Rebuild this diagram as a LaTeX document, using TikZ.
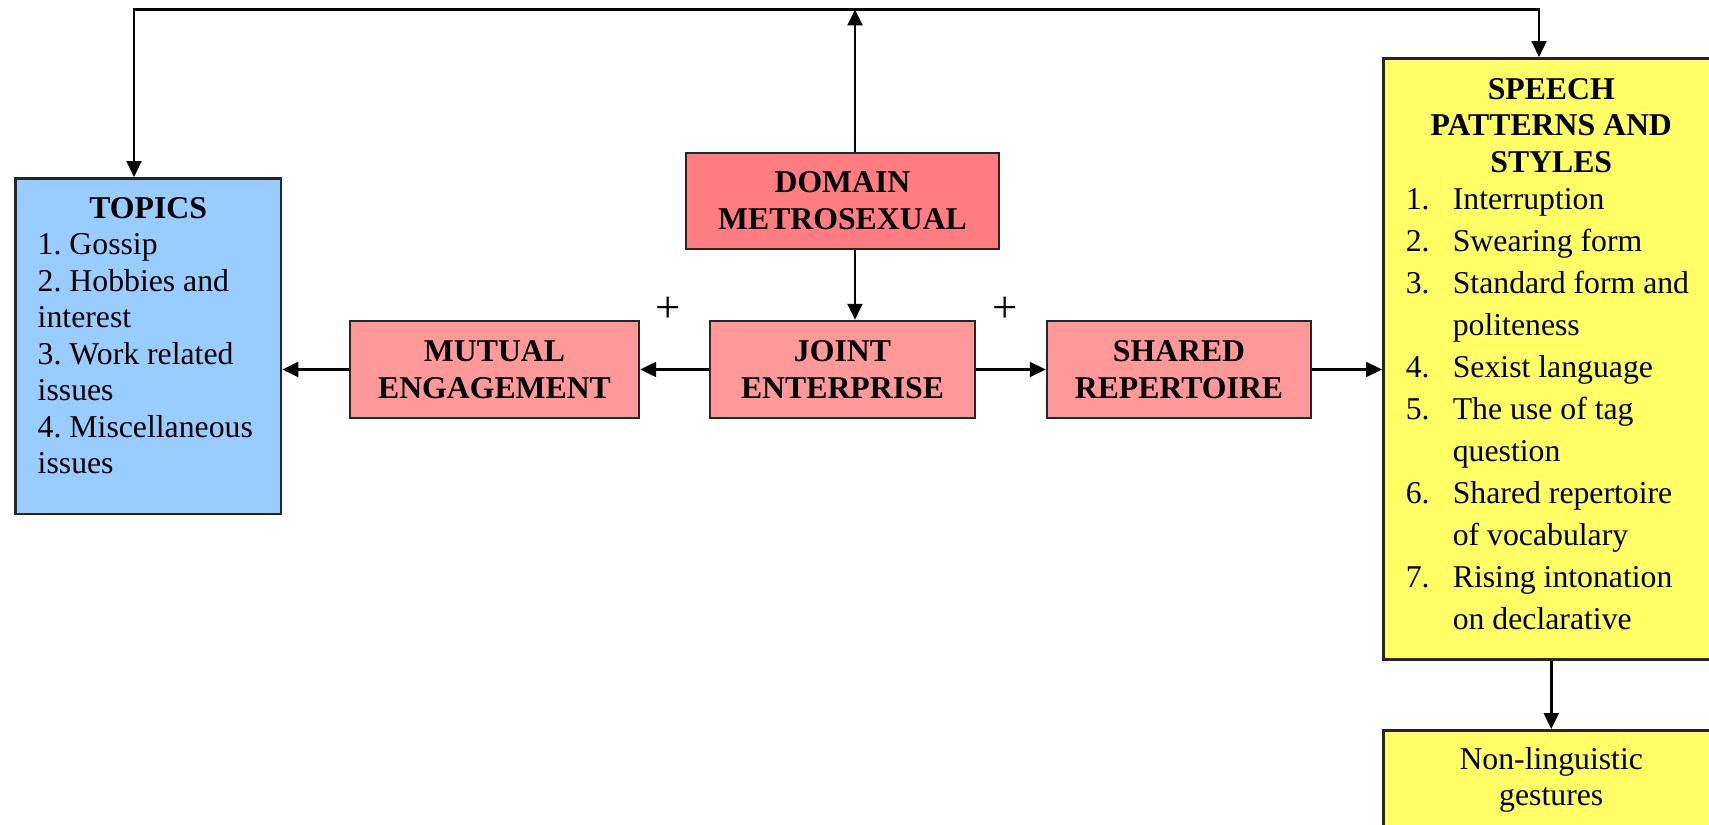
\documentclass[tikz,border=0pt]{standalone}
\usepackage{fontspec}
\setmainfont{Liberation Serif}
\usepackage{xcolor}
\usetikzlibrary{arrows.meta}
\setlength{\parskip}{0pt}
\frenchspacing
\definecolor{topicblue}{HTML}{99CCFF}
\definecolor{domainred}{HTML}{FF7C80}
\definecolor{cmpink}{HTML}{FF9999}
\definecolor{speechyellow}{HTML}{FFFF66}

\begin{document}
\begin{tikzpicture}[x=0.378pt,y=-0.378pt,
    >={Triangle[length=6pt,width=5.6pt]},
    every path/.style={line width=0.95pt},
    redbox/.style={draw=black!85,line width=0.95pt,align=center,inner sep=0pt,
        font=\fontsize{12}{14}\selectfont\bfseries},
    listbox/.style={draw=black!85,line width=0.95pt,inner xsep=8.5pt,inner ysep=0pt,
        anchor=north west,font=\fontsize{12}{13.8}\selectfont}]
                \useasboundingbox (0,0) rectangle (1709,825);
                % the community of practice
                \node[redbox,fill=domainred,minimum width=118.3pt,minimum height=36.3pt] (domain) at (842.5,201) {DOMAIN\\METROSEXUAL};
                \node[redbox,fill=cmpink,minimum width=100.2pt,minimum height=36.7pt] (joint) at (842.5,369.5) {JOINT\\ENTERPRISE};
                \node[redbox,fill=cmpink,minimum width=109.2pt,minimum height=36.7pt] (mutual) at (494.5,369.5) {MUTUAL\\ENGAGEMENT};
                \node[redbox,fill=cmpink,minimum width=99.8pt,minimum height=36.7pt] (shared) at (1179,369.5) {SHARED\\REPERTOIRE};
                \node[font=\fontsize{17}{19}\selectfont] (plusl) at (668,310) {+};
                \node[font=\fontsize{17}{19}\selectfont] (plusr) at (1005,310) {+};
                % topics
                \node[listbox,fill=topicblue] (topics) at (14,177) {\parbox[c][127pt][t]{83.5pt}{\centering\bfseries\rule{0pt}{15.1pt}TOPICS\par
                    \raggedright\mdseries 1. Gossip\\2. Hobbies and\\interest\\3. Work related\\issues\\4. Miscellaneous\\issues}};
                % speech patterns
                \node[listbox,fill=speechyellow] (speech) at (1382,57) {\parbox[c][227.2pt][t]{110pt}{\centering\bfseries\rule{0pt}{15.5pt}SPEECH\\PATTERNS AND\\STYLES\par
                    \raggedright\mdseries\fontsize{12}{15.9}\selectfont\vspace{-1.9pt}%
                    \makebox[17.8pt][l]{1.}Interruption\\
                    \makebox[17.8pt][l]{2.}Swearing form\\
                    \makebox[17.8pt][l]{3.}Standard form and\\
                    \hspace*{17.8pt}politeness\\
                    \makebox[17.8pt][l]{4.}Sexist language\\
                    \makebox[17.8pt][l]{5.}The use of tag\\
                    \hspace*{17.8pt}question\\
                    \makebox[17.8pt][l]{6.}Shared repertoire\\
                    \hspace*{17.8pt}of vocabulary\\
                    \makebox[17.8pt][l]{7.}Rising intonation\\
                    \hspace*{17.8pt}on declarative}};
                \node[listbox,fill=speechyellow] (nonling) at (1382,729) {\parbox[c][40pt][t]{110pt}{\centering\rule{0pt}{14.7pt}Non-linguistic\\gestures}};
                % connectors
                \coordinate (apex) at (855,9.5);
                \coordinate (tl) at (134,9.5);
                \coordinate (tr) at (1539,9.5);
                \draw[<->] (tl |- topics.north) -- (tl) -- (tr) -- (tr |- speech.north);
                \draw[->] (domain.north -| apex) -- (apex);
                \draw[->] (domain.south -| apex) -- (joint.north -| apex);
                \draw[->] (joint.west) -- (mutual.east);
                \draw[->] (mutual.west) -- (mutual.west -| topics.east);
                \draw[->] (joint.east) -- (shared.west);
                \draw[->] (shared.east) -- (shared.east -| speech.west);
                \draw[->] (speech.south) -- (nonling.north);
            \end{tikzpicture}
\end{document}
